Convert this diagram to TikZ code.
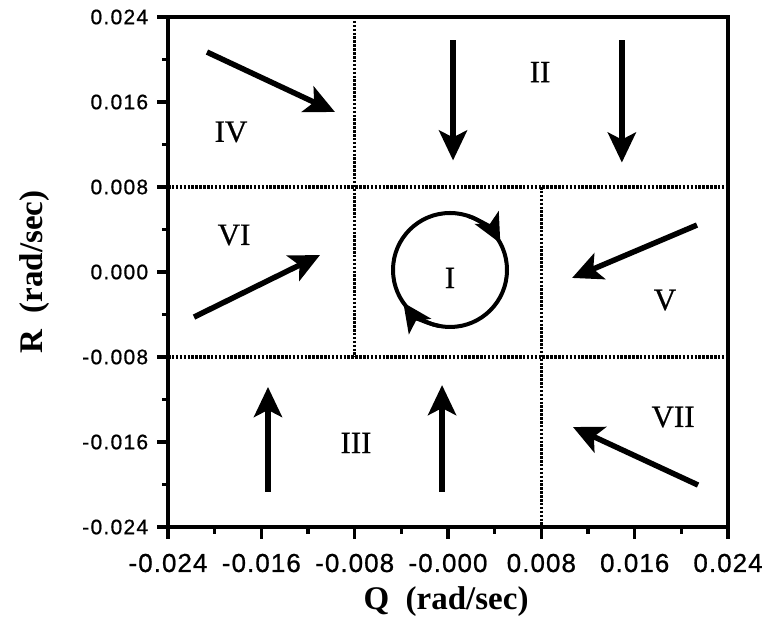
\documentclass[tikz,border=0pt]{standalone}
\usepackage{fontspec}
\setmainfont{Liberation Serif}
\newfontfamily\romfont[FakeBold=0.6]{Liberation Serif}
\newfontfamily\ticklfont[LetterSpace=6,FakeBold=0.8]{Liberation Sans}
\newfontfamily\tickbfont[LetterSpace=4,FakeBold=0.8]{Liberation Sans}
\usetikzlibrary{arrows.meta}

\begin{document}
\begin{tikzpicture}[x=11.667pt,y=10.625pt,
    flow/.style={line width=5.5pt,-{Stealth[length=30pt,width=28pt,inset=7pt]}},
    spin/.style={line width=4pt,-{Stealth[length=29pt,width=27pt,inset=7pt]}},
    border/.style={line width=3.2pt,dash pattern=on 2.5pt off 1.4pt},
    region/.style={font=\romfont\fontsize{31}{31}\selectfont},
    axlabel/.style={font=\bfseries\fontsize{33}{33}\selectfont}]
  \useasboundingbox (-38.4,-33.22) rectangle (27.34,25.6);
  % region borders
  \draw[border] (-8,24) -- (-8,-8);
  \draw[border] (8,8) -- (8,-24);
  \draw[border] (-24,8) -- (24,8);
  \draw[border] (-24,-8) -- (24,-8);
  % frame
  \draw[line width=4pt] (-24,-24) rectangle (24,24);
  \foreach \v/\t in {-24/-0.024,-16/-0.016,-8/-0.008,0/0.000,8/0.008,16/0.016,24/0.024} {
    \draw[line width=3.5pt] (-24,\v) -- (-24.94,\v);
    \node[anchor=east,font=\ticklfont\fontsize{21}{21}\selectfont] (ry\v) at (-25.4,\v) {\t};
  }
  \foreach \v/\t in {-24/-0.024,-16/-0.016,-8/-0.008,0/-0.000,8/0.008,16/0.016,24/0.024} {
    \draw[line width=3.5pt] (\v,-24) -- (\v,-25.13);
    \node[font=\tickbfont\fontsize{26}{26}\selectfont] (qx\v) at (\v,-27.39) {\t};
  }
  \foreach \v in {-20,-12,-4,4,12,20} {
    \draw[line width=3.5pt] (-24,\v) -- (-24.5,\v);
    \draw[line width=3.5pt] (\v,-24) -- (\v,-24.66);
  }
  \node[axlabel] (qlab) at (-0.17,-31.06) {Q\ \ (rad/sec)};
  \node[axlabel,rotate=90] (rlab) at (-35.4,0) {R\ \ (rad/sec)};
  % flow directions
  \draw[flow] (-20.66,20.7) -- (-9.69,15.06);
  \draw[flow] (0.43,21.8) -- (0.43,10.5);
  \draw[flow] (14.9,21.8) -- (14.9,10.3);
  \draw[flow] (-21.77,-4.24) -- (-10.97,1.6);
  \draw[flow] (21.34,4.42) -- (10.63,-0.56);
  \draw[flow] (21.43,-20.05) -- (10.71,-14.59);
  \draw[flow] (-15.43,-20.7) -- (-15.43,-10.82);
  \draw[flow] (-0.51,-20.7) -- (-0.51,-10.64);
  % limit cycle
  \coordinate (c) at (0.17,0.19);
  \draw[line width=4pt] (c) circle (57pt);
  \draw[spin] (c) ++(72:57pt) arc[start angle=72,end angle=28,radius=57pt];
  \draw[spin] (c) ++(259:57pt) arc[start angle=259,end angle=215,radius=57pt];
  % region names
  \node[region] (r1) at (0.17,-0.56) {I};
  \node[region] (r2) at (7.89,18.82) {II};
  \node[region] (r3) at (-7.89,-16.09) {III};
  \node[region] (r4) at (-18.6,13.18) {IV};
  \node[region] (r5) at (18.6,-2.64) {V};
  \node[region] (r6) at (-18.34,3.48) {VI};
  \node[region] (r7) at (19.29,-13.65) {VII};
\end{tikzpicture}
\end{document}
